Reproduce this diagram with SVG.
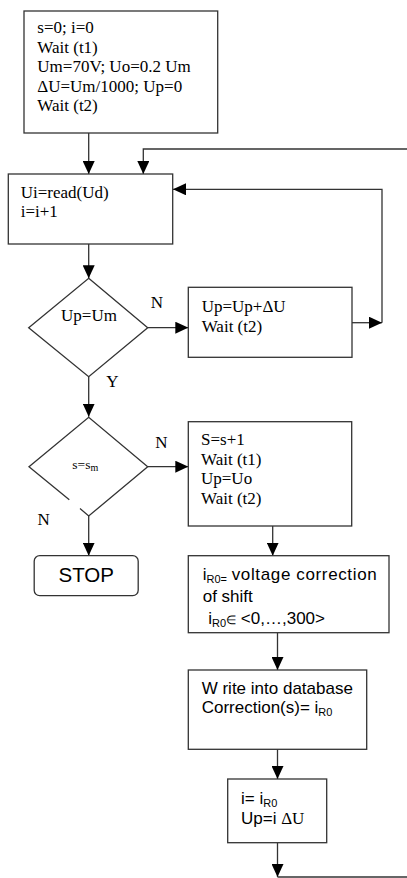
<svg xmlns="http://www.w3.org/2000/svg" width="407" height="878" viewBox="0 0 407 878">
<style>
.box{fill:#fff;stroke:#333;stroke-width:1.3}
.ln{fill:none;stroke:#333;stroke-width:1.3}
.t{font-family:"Liberation Serif","Times New Roman",serif;font-size:17px;fill:#000}
.s{font-family:"Liberation Sans",Arial,sans-serif;font-size:17px;fill:#000}
.sub{font-size:11px}
</style>
<defs>
<marker id="ah" viewBox="0 0 13 12" refX="13" refY="6" markerWidth="13" markerHeight="12" markerUnits="userSpaceOnUse" orient="auto">
<path d="M0,0 L13,6 L0,12 Z" fill="#000"/>
</marker>
</defs>
<rect width="407" height="878" fill="#fff"/>
<g id="connectors">
<path class="ln" d="M88.7,133 V174" marker-end="url(#ah)"/>
<path class="ln" d="M407,149 H143.3 V174" marker-end="url(#ah)"/>
<path class="ln" d="M382,322.7 V189.3 H173" marker-end="url(#ah)"/>
<path class="ln" d="M88.7,244 V278.3" marker-end="url(#ah)"/>
<path class="ln" d="M147.7,327.7 H188.3" marker-end="url(#ah)"/>
<path class="ln" d="M352,322.7 H382" marker-end="url(#ah)"/>
<path class="ln" d="M88.7,376.7 V416.7" marker-end="url(#ah)"/>
<path class="ln" d="M147.7,466.7 H188.3" marker-end="url(#ah)"/>
<path class="ln" d="M88.7,516 V555.7" marker-end="url(#ah)"/>
<path class="ln" d="M272.7,526 V555.7" marker-end="url(#ah)"/>
<path class="ln" d="M277.5,633 V670" marker-end="url(#ah)"/>
<path class="ln" d="M277.5,749.3 V779" marker-end="url(#ah)"/>
<path class="ln" d="M277.5,842.7 V877" marker-end="url(#ah)"/>
<path class="ln" d="M277.5,877 H407"/>
</g>
<g id="init">
<rect class="box" x="24" y="11" width="193.7" height="122"/>
<text class="t" x="37.3" y="33.3">s=0; i=0</text>
<text class="t" x="37.3" y="52.8">Wait (t1)</text>
<text class="t" x="37.3" y="72.3">Um=70V; Uo=0.2 Um</text>
<text class="t" x="37.3" y="91.8">ΔU=Um/1000; Up=0</text>
<text class="t" x="37.3" y="111.3">Wait (t2)</text>
</g>
<g id="read">
<rect class="box" x="8.3" y="174" width="164.4" height="70"/>
<text class="t" x="20.7" y="197.7">Ui=read(Ud)</text>
<text class="t" x="20.7" y="216.5">i=i+1</text>
</g>
<g id="dec1">
<path class="box" d="M88.7,278.3 L147.7,327.7 L88.7,376.7 L28.7,327.7 Z"/>
<text class="t" x="89" y="320.7" text-anchor="middle">Up=Um</text>
<text class="t" x="157" y="308" text-anchor="middle">N</text>
<text class="t" x="112.5" y="387.3" text-anchor="middle">Y</text>
</g>
<g id="incr">
<rect class="box" x="188.3" y="287.3" width="163.7" height="70"/>
<text class="t" x="201.7" y="312.3">Up=Up+ΔU</text>
<text class="t" x="201.7" y="332.3">Wait (t2)</text>
</g>
<g id="dec2">
<path class="ln" d="M80,508.6 L88.7,516 L147.7,466.7 L88.7,417.3 L29,466.7 L69.3,499.8"/>
<text class="t" x="72.3" y="468.5" style="font-size:13.5px">s=s<tspan class="sub" style="font-size:10px" dy="2">m</tspan></text>
<text class="t" x="161.5" y="447.7" text-anchor="middle">N</text>
<text class="t" x="43.7" y="525.3" text-anchor="middle">N</text>
</g>
<g id="next">
<rect class="box" x="188.3" y="421.7" width="163.4" height="104.3"/>
<text class="t" x="201" y="445">S=s+1</text>
<text class="t" x="201" y="464.7">Wait (t1)</text>
<text class="t" x="201" y="484.3">Up=Uo</text>
<text class="t" x="201" y="504">Wait (t2)</text>
</g>
<g id="stop">
<rect class="box" x="34.2" y="555.7" width="104" height="40" rx="5.5"/>
<text class="s" x="86.2" y="581.7" text-anchor="middle" style="font-size:20.5px">STOP</text>
</g>
<g id="corr">
<rect class="box" x="188.3" y="555.7" width="200.7" height="77"/>
<text class="s" x="202.7" y="580">i<tspan class="sub" dy="3">R0=</tspan></text>
<text class="s" x="231.7" y="580" textLength="145" lengthAdjust="spacing">voltage correction</text>
<text class="s" x="202.7" y="602">of shift</text>
<text class="s" x="208.3" y="624">i<tspan class="sub" dy="3">R0</tspan><tspan dy="-3" style="font-size:12px">∈</tspan> &lt;0,…,300&gt;</text>
</g>
<g id="write">
<rect class="box" x="188.3" y="670" width="178.4" height="79.3"/>
<text class="s" x="201.7" y="694">W rite into database</text>
<text class="s" x="201.7" y="713.3">Correction(s)= i<tspan class="sub" dy="3">R0</tspan></text>
</g>
<g id="set">
<rect class="box" x="227.7" y="779" width="99" height="63.7"/>
<text class="s" x="241" y="804">i= i<tspan class="sub" dy="3">R0</tspan></text>
<text class="s" x="241" y="824">Up=i <tspan class="t">ΔU</tspan></text>
</g>
</svg>
